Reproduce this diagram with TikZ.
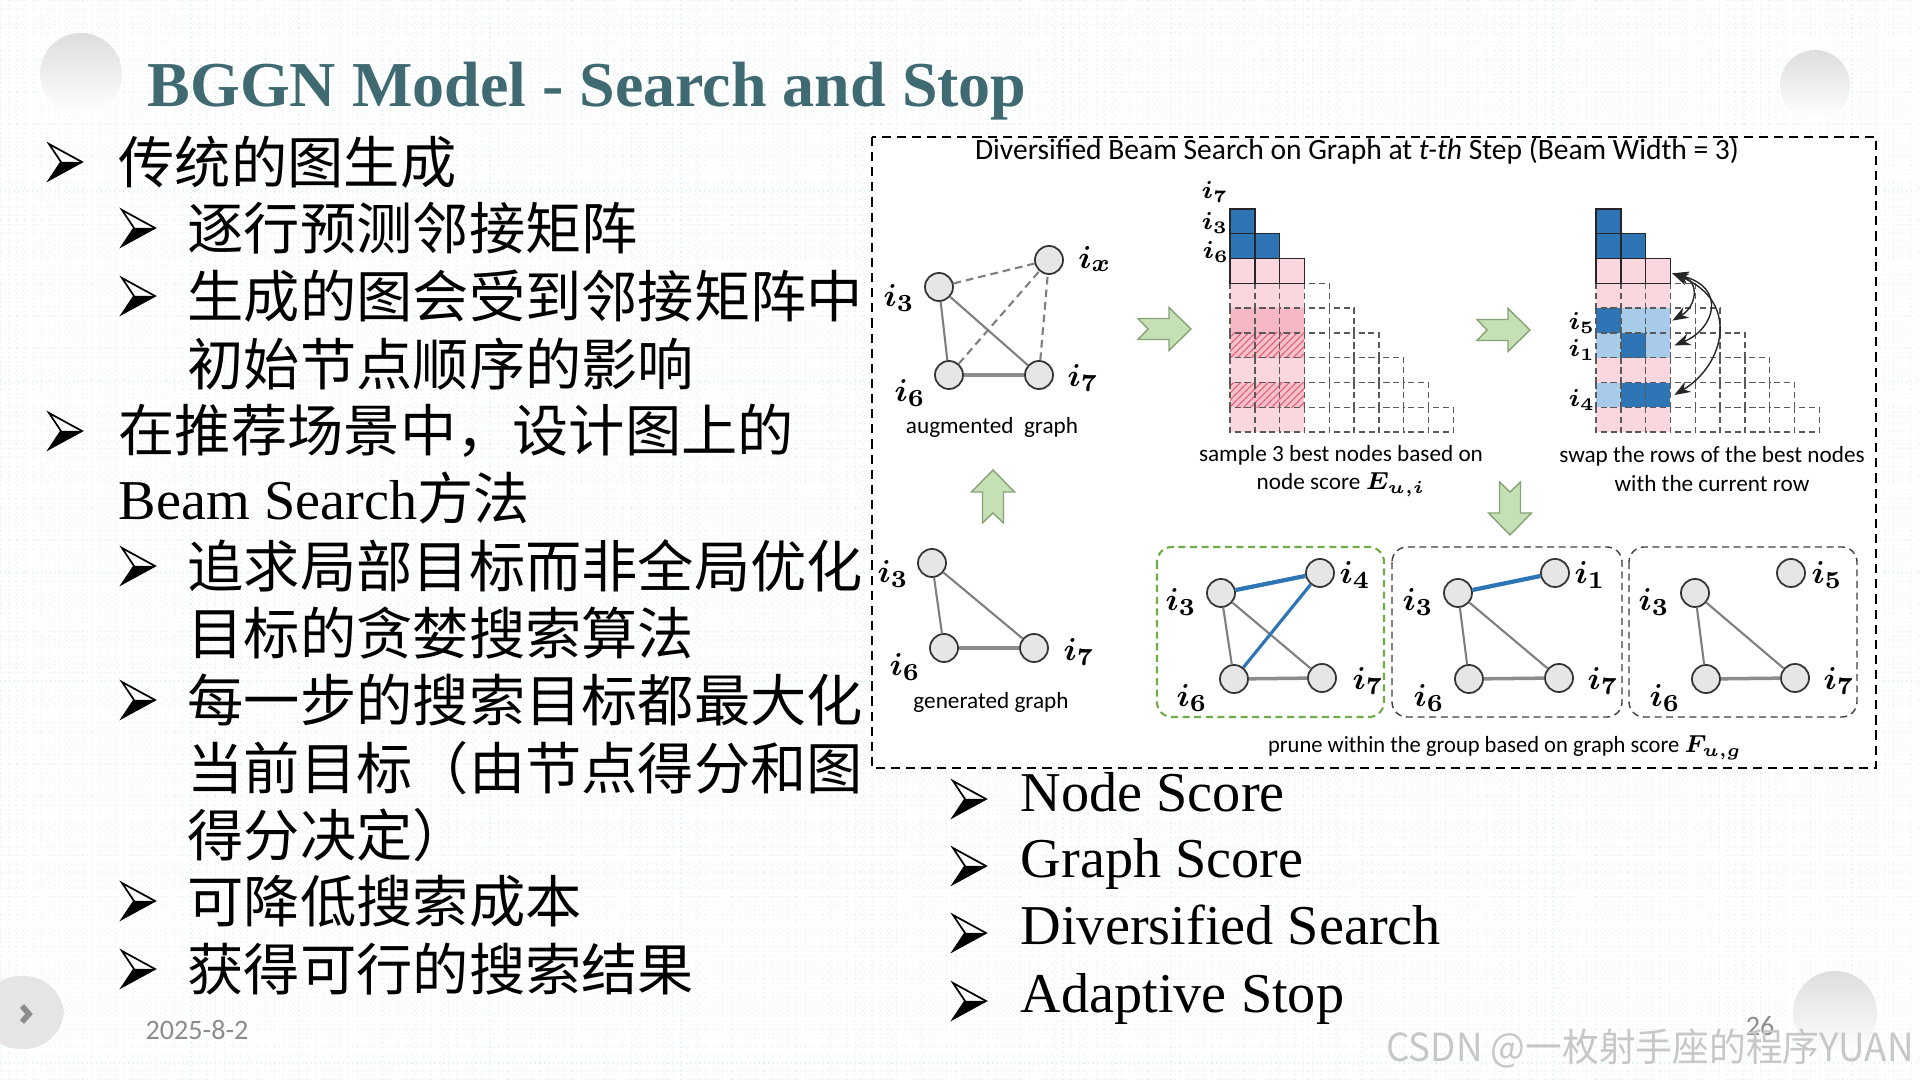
\documentclass[tikz,border=0pt]{standalone}
\usepackage{fontspec}
\usepackage{amsmath}
\usepackage{bm}
\usepackage{xcolor}
\usetikzlibrary{arrows.meta,patterns.meta,positioning}
\setmainfont{Liberation Serif}
\newfontfamily\cjk{Noto Sans CJK SC}
\newfontfamily\calib{Carlito}

\definecolor{titleteal}{HTML}{3F6A72}
\definecolor{bmblue}{HTML}{2E75B6}
\definecolor{bmlight}{HTML}{A9CBEA}
\definecolor{bmpink}{HTML}{FAD7DE}
\definecolor{bmrose}{HTML}{F5B8C4}
\definecolor{hatchred}{HTML}{E35D72}
\definecolor{nodegrey}{HTML}{E6E6E6}
\definecolor{edgegrey}{HTML}{7F7F7F}
\definecolor{arrowgreen}{HTML}{C5E0B4}
\definecolor{arrowline}{HTML}{86A276}
\definecolor{groupgreen}{HTML}{70AD47}
\definecolor{gridblue}{HTML}{DDF1F8}
\definecolor{footgrey}{HTML}{8C8C8C}

\tikzset{
  cnline/.style={anchor=west, inner sep=0pt, font=\cjk\fontsize{16}{16}\selectfont},
  enline/.style={anchor=base west, inner sep=0pt, font=\fontsize{16}{16}\selectfont},
  gnode/.style={circle, draw=black!80, fill=nodegrey, line width=0.5pt, minimum size=2.8mm, inner sep=0pt},
  glabel/.style={inner sep=0pt, font=\fontsize{9.5}{9.5}\selectfont},
  mlabel/.style={inner sep=0pt, font=\fontsize{7}{7}\selectfont},
  captext/.style={inner sep=0pt, align=center, font=\calib\fontsize{6.6}{8}\selectfont},
  gedge/.style={draw=edgegrey, line width=0.6pt},
  gedgewide/.style={draw=black!45, line width=1pt},
  gdash/.style={draw=edgegrey, line width=0.6pt, dash pattern=on 2.2pt off 1.4pt},
  bedge/.style={draw=bmblue, line width=1.2pt},
  groupbox/.style={draw=black!75, line width=0.4pt, dash pattern=on 2pt off 1.3pt, rounded corners=1.5mm},
  solidcell/.style={draw=black!85, line width=0.4pt},
  dashcell/.style={draw=black!65, line width=0.4pt, dash pattern=on 1.7pt off 1.1pt},
  hatchcell/.style={pattern={Lines[angle=45,distance=1.4pt,line width=0.3pt]}, pattern color=hatchred},
  swaparrow/.style={draw=black!85, line width=0.4pt, {Stealth[length=1.6mm,width=1.2mm]}-{Stealth[length=1.6mm,width=1.2mm]}},
  arrowbody/.style={fill=arrowgreen, draw=arrowline, line width=0.4pt, line join=miter},
  greenarrow/.pic={
    \draw[arrowbody] (-27,-10.5) -- (4,-10.5) -- (4,-21.5) -- (26,0) -- (4,21.5)
      -- (4,10.5) -- (-27,10.5) -- (-17,0) -- cycle;
  },
  bulletarrow/.pic={
    \fill[black] (12,0) -- (33,0) -- (0,18) -- cycle;
    \draw[line width=0.5pt, line join=miter] (0,-18) -- (33,0) -- (0,18) -- (12,0) -- cycle;
  }
}

\begin{document}
\begin{tikzpicture}[x=0.01cm, y=-0.01cm]
        \useasboundingbox (0,0) rectangle (1920,1080);
        % background and grid
        \fill[white] (0,0) rectangle (1920,1080);
        \draw[gridblue, line width=0.3pt, densely dotted] (0,0) grid[step=0.83mm] (1920,1080);
        \shade[top color=black!13, bottom color=white] (81,74) circle (41);
        \shade[top color=black!13, bottom color=white] (1815,85) circle (35);
        \shade[top color=black!13, bottom color=white] (1835,1013) circle (42);
        \fill[black!10, rounded corners=4mm] (-20,976) rectangle (64,1049);
        \draw[footgrey, line width=1.6pt] (22,1006) -- (29,1014) -- (22,1022);

        % title
        \node[anchor=base west, inner sep=0pt, text=titleteal,
              font=\bfseries\fontsize{18.2}{18}\selectfont] (title) at (147,107) {BGGN Model - Search and Stop};

        % left bullets
        \pic at (49,162) {bulletarrow};
        \node[cnline] (l1) at (118,162) {传统的图生成};
        \pic at (122,228) {bulletarrow};
        \node[cnline] (l2) at (187,228) {逐行预测邻接矩阵};
        \pic at (122,296) {bulletarrow};
        \node[cnline] (l3) at (187,296) {生成的图会受到邻接矩阵中};
        \node[cnline] (l4) at (187,364) {初始节点顺序的影响};
        \pic at (49,431) {bulletarrow};
        \node[cnline] (l5) at (118,431) {在推荐场景中，设计图上的};
        \node[cnline] (l6) at (118,498) {{\rmfamily Beam Search}方法};
        \pic at (122,566) {bulletarrow};
        \node[cnline] (l7) at (187,566) {追求局部目标而非全局优化};
        \node[cnline] (l8) at (187,633) {目标的贪婪搜索算法};
        \pic at (122,700) {bulletarrow};
        \node[cnline] (l9) at (187,700) {每一步的搜索目标都最大化};
        \node[cnline] (l10) at (187,768) {当前目标（由节点得分和图};
        \node[cnline] (l11) at (187,835) {得分决定）};
        \pic at (122,901) {bulletarrow};
        \node[cnline] (l12) at (187,901) {可降低搜索成本};
        \pic at (122,969) {bulletarrow};
        \node[cnline] (l13) at (187,969) {获得可行的搜索结果};

        % right bullets
        \pic at (953,799) {bulletarrow};
        \node[enline] (r1) at (1020,812) {Node Score};
        \pic at (953,866) {bulletarrow};
        \node[enline] (r2) at (1020,878) {Graph Score};
        \pic at (953,933) {bulletarrow};
        \node[enline] (r3) at (1020,945) {Diversified Search};
        \pic at (953,1001) {bulletarrow};
        \node[enline] (r4) at (1020,1013) {Adaptive Stop};

        % diagram frame
        \draw[fill=white, line width=0.55pt, dash pattern=on 2.6pt off 1.7pt] (872,137) rectangle (1876,768);
        \node[inner sep=0pt, font=\calib\fontsize{8.4}{8.4}\selectfont] (dbtitle) at (1357,151)
             {Diversified Beam Search on Graph at \textit{t-th} Step (Beam Width = 3)};

        % augmented graph
        \node[gnode] (a3) at (939,287) {};
        \node[gnode] (ax) at (1049,260) {};
        \node[gnode] (a6) at (949,375) {};
        \node[gnode] (a7) at (1039,375) {};
        \draw[gdash] (a3) -- (ax);
        \draw[gdash] (a6) -- (ax);
        \draw[gdash] (a7) -- (ax);
        \draw[gedge] (a3) -- (a6);
        \draw[gedge] (a3) -- (a7);
        \draw[gedgewide] (a6) -- (a7);
        \node[glabel] (la3) at (899,298) {$\bm{i_3}$};
        \node[glabel] (lax) at (1095,259) {$\bm{i_x}$};
        \node[glabel] (la6) at (910,393) {$\bm{i_6}$};
        \node[glabel] (la7) at (1083,378) {$\bm{i_7}$};
        \node[captext] (augcap) at (992,427) {augmented\ \ graph};

        % generated graph
        \node[gnode] (g3) at (932,563) {};
        \node[gnode] (g6) at (944,648) {};
        \node[gnode] (g7) at (1034,648) {};
        \draw[gedge] (g3) -- (g6);
        \draw[gedge] (g3) -- (g7);
        \draw[gedgewide] (g6) -- (g7);
        \node[glabel] (lg3) at (893,574) {$\bm{i_3}$};
        \node[glabel] (lg6) at (905,667) {$\bm{i_6}$};
        \node[glabel] (lg7) at (1079,652) {$\bm{i_7}$};
        \node[captext] (gencap) at (991,702) {generated graph};

        % green arrows
        \pic at (1165,329) {greenarrow};
        \pic at (1504,330) {greenarrow};
        \pic[rotate=90] at (993,496) {greenarrow};
        \pic[rotate=-90] at (1510,509) {greenarrow};

        % matrix after sampling
        \begin{scope}[shift={(1230,209)}]
          \def\cs{24.8}
          \foreach \r in {3,...,8}
            \foreach \c in {3,...,\r}
              \draw[dashcell] (\c*\cs,\r*\cs) rectangle ++(\cs,\cs);
          \foreach \r in {2,...,8}
            \foreach \c in {0,1,2}
              \fill[bmpink] (\c*\cs,\r*\cs) rectangle ++(\cs,\cs);
          \fill[bmrose] (0,4*\cs) rectangle (3*\cs,5*\cs);
          \foreach \r in {5,7}{
            \fill[bmrose!70!bmpink] (0,\r*\cs) rectangle (3*\cs,\r*\cs+\cs);
            \fill[hatchcell] (0,\r*\cs) rectangle (3*\cs,\r*\cs+\cs);
          }
          \foreach \r in {3,...,8}
            \foreach \c in {0,1,2}
              \draw[dashcell] (\c*\cs,\r*\cs) rectangle ++(\cs,\cs);
          \foreach \c in {0,1,2}
            \draw[solidcell] (\c*\cs,2*\cs) rectangle ++(\cs,\cs);
          \foreach \c/\r in {0/0,0/1,1/1}
            \draw[solidcell, fill=bmblue] (\c*\cs,\r*\cs) rectangle ++(\cs,\cs);
        \end{scope}
        \node[mlabel] (m7) at (1215,192) {$\bm{i_7}$};
        \node[mlabel] (m3) at (1215,223) {$\bm{i_3}$};
        \node[mlabel] (m6) at (1216,252) {$\bm{i_6}$};
        \node[captext] (samplecap) at (1341,471) {sample 3 best nodes based on\\node score $\bm{E_{u,i}}$};

        % matrix after swapping
        \begin{scope}[shift={(1596,209)}]
          \def\cs{24.8}
          \foreach \r in {3,...,8}
            \foreach \c in {3,...,\r}
              \draw[dashcell] (\c*\cs,\r*\cs) rectangle ++(\cs,\cs);
          \foreach \r in {2,...,8}
            \foreach \c in {0,1,2}
              \fill[bmpink] (\c*\cs,\r*\cs) rectangle ++(\cs,\cs);
          \foreach \c/\r/\col in {0/4/bmblue,1/4/bmlight,2/4/bmlight,
                                  0/5/bmlight,1/5/bmblue,2/5/bmlight,
                                  0/7/bmlight,1/7/bmblue,2/7/bmblue}
            \fill[\col] (\c*\cs,\r*\cs) rectangle ++(\cs,\cs);
          \foreach \r in {3,...,8}
            \foreach \c in {0,1,2}
              \draw[dashcell] (\c*\cs,\r*\cs) rectangle ++(\cs,\cs);
          \foreach \c in {0,1,2}
            \draw[solidcell] (\c*\cs,2*\cs) rectangle ++(\cs,\cs);
          \foreach \c/\r in {0/0,0/1,1/1}
            \draw[solidcell, fill=bmblue] (\c*\cs,\r*\cs) rectangle ++(\cs,\cs);
          \coordinate (sw0) at (3*\cs+2,2.6*\cs);
          \coordinate (sw5) at (3*\cs+2,4.5*\cs);
          \coordinate (sw1) at (3*\cs+4,5.5*\cs);
          \coordinate (sw4) at (3*\cs+4,7.5*\cs);
        \end{scope}
        \draw[swaparrow] (sw0) .. controls +(28,8) and +(24,-14) .. (sw5);
        \draw[swaparrow] (sw0) .. controls +(55,14) and +(40,-16) .. (sw1);
        \draw[swaparrow] (sw0) .. controls +(68,28) and +(50,-30) .. (sw4);
        \node[mlabel] (m5) at (1582,323) {$\bm{i_5}$};
        \node[mlabel] (m1) at (1582,350) {$\bm{i_1}$};
        \node[mlabel] (m4) at (1582,400) {$\bm{i_4}$};
        \node[captext] (swapcap) at (1712,469) {swap the rows of the best nodes\\with the current row};

        % groups after pruning
        \draw[groupbox, draw=groupgreen, line width=0.6pt] (1157,547) rectangle (1384,717);
        \draw[groupbox] (1392,547) rectangle (1622,717);
        \draw[groupbox] (1629,547) rectangle (1857,717);

        \node[gnode] (b3) at (1221,593) {};
        \node[gnode] (b4) at (1320,573) {};
        \node[gnode] (b6) at (1234,679) {};
        \node[gnode] (b7) at (1322,678) {};
        \draw[gedge] (b3) -- (b6);
        \draw[gedge] (b3) -- (b7);
        \draw[gedgewide] (b6) -- (b7);
        \draw[bedge] (b3) -- (b4);
        \draw[bedge, line width=0.9pt] (b6) -- (b4);
        \node[glabel] (lb3) at (1181,602) {$\bm{i_3}$};
        \node[glabel] (lb4) at (1355,575) {$\bm{i_4}$};
        \node[glabel] (lb6) at (1192,698) {$\bm{i_6}$};
        \node[glabel] (lb7) at (1368,681) {$\bm{i_7}$};

        \node[gnode] (c3) at (1458,593) {};
        \node[gnode] (c1) at (1555,573) {};
        \node[gnode] (c6) at (1469,679) {};
        \node[gnode] (c7) at (1559,678) {};
        \draw[gedge] (c3) -- (c6);
        \draw[gedge] (c3) -- (c7);
        \draw[gedgewide] (c6) -- (c7);
        \draw[bedge] (c3) -- (c1);
        \node[glabel] (lc3) at (1418,602) {$\bm{i_3}$};
        \node[glabel] (lc1) at (1590,575) {$\bm{i_1}$};
        \node[glabel] (lc6) at (1429,698) {$\bm{i_6}$};
        \node[glabel] (lc7) at (1603,681) {$\bm{i_7}$};

        \node[gnode] (d3) at (1695,593) {};
        \node[gnode] (d5) at (1791,573) {};
        \node[gnode] (d6) at (1706,679) {};
        \node[gnode] (d7) at (1795,678) {};
        \draw[gedge] (d3) -- (d6);
        \draw[gedge] (d3) -- (d7);
        \draw[gedgewide] (d6) -- (d7);
        \node[glabel] (ld3) at (1654,602) {$\bm{i_3}$};
        \node[glabel] (ld5) at (1827,575) {$\bm{i_5}$};
        \node[glabel] (ld6) at (1665,698) {$\bm{i_6}$};
        \node[glabel] (ld7) at (1839,681) {$\bm{i_7}$};

        \node[captext, xscale=0.97] (prunecap) at (1505,748) {prune within the group based on graph score $\bm{F_{u,g}}$};

        % footer
        \node[inner sep=0pt, text=footgrey, font=\calib\fontsize{8}{8}\selectfont] (date) at (197,1030) {2025-8-2};
        \node[inner sep=0pt, text=footgrey, font=\calib\fontsize{8}{8}\selectfont] (page) at (1760,1026) {26};
        \node[inner sep=0pt, text=black!22, xscale=0.95, font=\cjk\fontsize{11}{11}\selectfont] (mark) at (1650,1048) {CSDN @一枚射手座的程序YUAN};
\end{tikzpicture}
\end{document}
